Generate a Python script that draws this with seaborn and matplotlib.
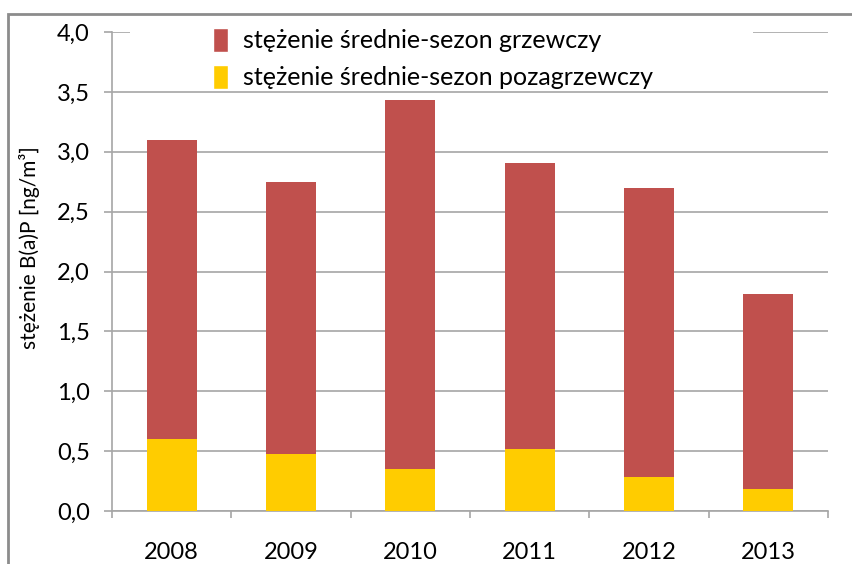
#!/usr/bin/env python3
"""Stężenie B(a)P: sezon grzewczy vs pozagrzewczy, 2008-2013."""

import matplotlib

matplotlib.use("Agg")
import matplotlib.pyplot as plt
import pandas as pd
import seaborn as sns
from matplotlib.patches import Patch, Rectangle

years = ["2008", "2009", "2010", "2011", "2012", "2013"]
heating = [3.10, 2.75, 3.43, 2.91, 2.70, 1.81]
non_heating = [0.60, 0.48, 0.35, 0.52, 0.28, 0.18]
y_ticks = [0.0, 0.5, 1.0, 1.5, 2.0, 2.5, 3.0, 3.5, 4.0]
series_labels = [
    "stężenie średnie-sezon grzewczy",
    "stężenie średnie-sezon pozagrzewczy",
]
y_label = "stężenie B(a)P [ng/m³]"

RED = "#C0504D"
YELLOW = "#FFCC00"
GRID = "#A6A6A6"

sns.set_theme(style="white")
plt.rcParams["font.family"] = ["Lato", "DejaVu Sans"]

df = pd.DataFrame({"year": years, "heating": heating, "non_heating": non_heating})

fig = plt.figure(figsize=(8.52, 5.64), dpi=100)
ax = fig.add_axes([112 / 852, 1 - 511 / 564, 716 / 852, 479 / 564])

sns.barplot(data=df, x="year", y="heating", color=RED, width=0.42,
            saturation=1, linewidth=0, ax=ax, zorder=2)
sns.barplot(data=df, x="year", y="non_heating", color=YELLOW, width=0.42,
            saturation=1, linewidth=0, ax=ax, zorder=3)

ax.set_ylim(0, 4.0)
ax.set_xlim(-0.5, len(years) - 0.5)
ax.set_yticks(y_ticks)
ax.set_yticklabels([f"{v:.1f}".replace(".", ",") for v in y_ticks])
ax.set_axisbelow(True)
ax.yaxis.grid(True, color=GRID, linewidth=1.2)
ax.xaxis.grid(False)

for side in ("top", "right"):
    ax.spines[side].set_visible(False)
for side in ("left", "bottom"):
    ax.spines[side].set_color(GRID)
    ax.spines[side].set_linewidth(1.2)

ax.tick_params(axis="y", which="major", length=6, width=1.2, color=GRID,
               pad=10, labelsize=17, labelcolor="black", left=True)
ax.tick_params(axis="x", which="major", length=0, pad=22, labelsize=17,
               labelcolor="black")
ax.set_xticks([i - 0.5 for i in range(len(years) + 1)], minor=True)
ax.tick_params(axis="x", which="minor", length=5, width=1.2, color=GRID,
               bottom=True)

ax.set_xlabel("")
ax.set_ylabel(y_label, fontsize=15, color="black")
ax.yaxis.set_label_coords(-0.10, 0.55)

# white band behind the legend hides the top gridline there
ax.add_patch(Rectangle((0.025, 0.91), 0.87, 0.14, transform=ax.transAxes,
                       facecolor="white", edgecolor="none", zorder=1,
                       clip_on=False))

handles = [Patch(facecolor=RED), Patch(facecolor=YELLOW)]
ax.legend(handles, series_labels, loc="upper left", bbox_to_anchor=(0.11, 1.056),
          frameon=False, fontsize=18, handlelength=0.6, handleheight=1.1,
          handletextpad=0.6, labelspacing=0.5, labelcolor="black")

# outer chart border (cropped at right and bottom)
fig.add_artist(Rectangle((8 / 852, -0.1), 1.2, 1 - 14 / 564 + 0.1,
                         transform=fig.transFigure, facecolor="none",
                         edgecolor="#8C8C8C", linewidth=2))

fig.savefig("out.png", dpi=100)
